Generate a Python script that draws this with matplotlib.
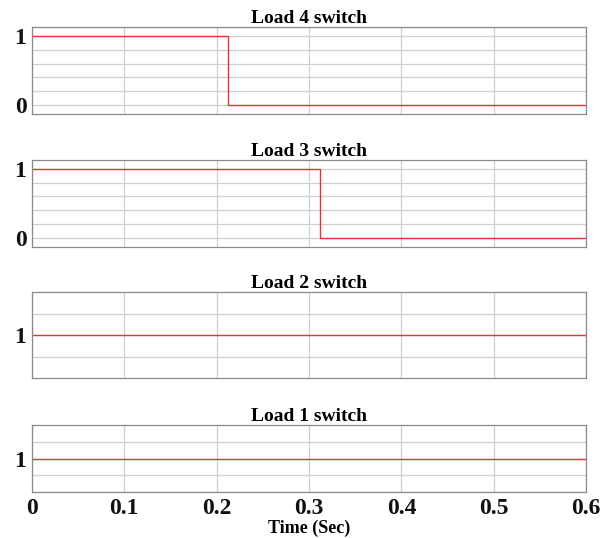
import matplotlib
matplotlib.use("Agg")
import matplotlib.pyplot as plt

# switch signals (time in sec, state)
t_load4 = [0, 0.212, 0.212, 0.6]
s_load4 = [1, 1, 0, 0]
t_load3 = [0, 0.312, 0.312, 0.6]
s_load3 = [1, 1, 0, 0]
t_load2 = [0, 0.6]
s_load2 = [1, 1]
t_load1 = [0, 0.6]
s_load1 = [1, 1]

titles = ["Load 4 switch", "Load 3 switch", "Load 2 switch", "Load 1 switch"]
xticks = [0, 0.1, 0.2, 0.3, 0.4, 0.5, 0.6]
xticklabels = ["0", "0.1", "0.2", "0.3", "0.4", "0.5", "0.6"]

plt.rcParams["font.family"] = "Liberation Serif"
plt.rcParams["font.weight"] = "bold"

fig = plt.figure(figsize=(6.03, 5.38), dpi=100)

# axes boxes in figure fraction
boxes = [
    [0.053, 0.788, 0.919, 0.162],
    [0.053, 0.541, 0.919, 0.162],
    [0.053, 0.297, 0.919, 0.160],
    [0.053, 0.0855, 0.919, 0.1245],
]
series = [(t_load4, s_load4), (t_load3, s_load3), (t_load2, s_load2), (t_load1, s_load1)]

for i, (box, (t, s)) in enumerate(zip(boxes, series)):
    ax = fig.add_axes(box)
    ax.plot(t, s, color="#e8323a", lw=1.0)
    ax.set_xlim(0, 0.6)
    ax.set_xticks(xticks)
    if i < 2:
        ax.set_ylim(-0.13, 1.13)
        ax.set_yticks([0, 0.2, 0.4, 0.6, 0.8, 1.0])
        ax.set_yticklabels(["0", "", "", "", "", "1"])
    else:
        ax.set_ylim(0.0, 2.0)
        ax.set_yticks([0.5, 1.0, 1.5])
        ax.set_yticklabels(["", "1", ""])
    ax.grid(True, color="#cfcfcf", lw=0.9)
    ax.set_axisbelow(True)
    for sp in ax.spines.values():
        sp.set_color("#8a8a8a")
        sp.set_linewidth(0.9)
    ax.tick_params(axis="both", length=0, labelsize=17, pad=4, colors="#111111")
    if i < 3:
        ax.set_xticklabels([])
    else:
        ax.set_xticklabels(xticklabels)
        ax.set_xlabel("Time (Sec)", fontsize=13, fontweight="bold", labelpad=1)
    ax.set_title(titles[i], fontsize=14, fontweight="bold", pad=2)

plt.savefig("out.png", dpi=100)
